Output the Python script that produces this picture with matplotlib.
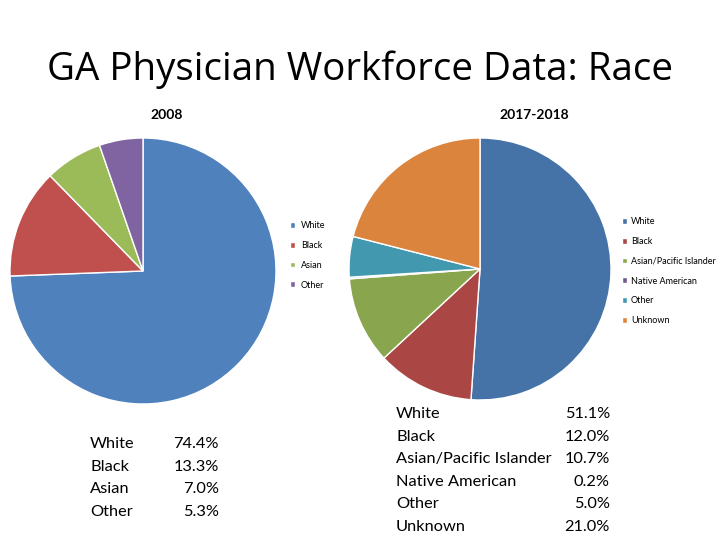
import matplotlib.pyplot as plt

plt.rcParams['font.family'] = ['Lato', 'DejaVu Sans']

# data
labels_2008 = ['White', 'Black', 'Asian', 'Other']
values_2008 = [74.4, 13.3, 7.0, 5.3]
colors_2008 = ['#4F81BD', '#C0504D', '#9BBB59', '#8064A2']

labels_2018 = ['White', 'Black', 'Asian/Pacific Islander', 'Native American', 'Other', 'Unknown']
values_2018 = [51.1, 12.0, 10.7, 0.2, 5.0, 21.0]
colors_2018 = ['#4572A7', '#AA4643', '#89A54E', '#71588F', '#4198AF', '#DB843D']

W, H = 720, 540
fig = plt.figure(figsize=(7.2, 5.4), dpi=100)


def px_axes(cx, cy, r):
    return fig.add_axes([(cx - r) / W, (H - cy - r) / H, 2 * r / W, 2 * r / H])


fig.text(360 / W, 1 - 70 / H, 'GA Physician Workforce Data: Race', ha='center', va='center',
         fontsize=27.7, family=['Open Sans', 'DejaVu Sans'])
fig.text(167 / W, 1 - 115 / H, '2008', ha='center', va='center', fontsize=10, fontweight='bold')
fig.text(534 / W, 1 - 115 / H, '2017-2018', ha='center', va='center', fontsize=10, fontweight='bold')

# left pie
ax1 = px_axes(143, 271, 133)
w1, _ = ax1.pie(values_2008, colors=colors_2008, startangle=90, counterclock=False,
                wedgeprops=dict(edgecolor='white', linewidth=1))
ax1.set_xlim(-1, 1); ax1.set_ylim(-1, 1)
fig.legend(w1, labels_2008, loc='upper left', bbox_to_anchor=(290 / W, 1 - 221 / H),
           frameon=False, fontsize=6.5, handlelength=0.6, handleheight=0.6,
           handletextpad=0.6, labelspacing=1.2, borderpad=0, borderaxespad=0)

# right pie
ax2 = px_axes(480, 269, 131)
w2, _ = ax2.pie(values_2018, colors=colors_2018, startangle=90, counterclock=False,
                wedgeprops=dict(edgecolor='white', linewidth=1))
ax2.set_xlim(-1, 1); ax2.set_ylim(-1, 1)
fig.legend(w2, labels_2018, loc='upper left', bbox_to_anchor=(622 / W, 1 - 217 / H),
           frameon=False, fontsize=6.5, handlelength=0.6, handleheight=0.6,
           handletextpad=0.4, labelspacing=1.2, borderpad=0, borderaxespad=0)

# text tables
for i, (lab, v) in enumerate(zip(labels_2008, values_2008)):
    y = 1 - (444 + i * 22.7) / H
    fig.text(90 / W, y, lab, ha='left', va='center', fontsize=11.8)
    fig.text(219 / W, y, f'{v:.1f}%', ha='right', va='center', fontsize=11.8)

for i, (lab, v) in enumerate(zip(labels_2018, values_2018)):
    y = 1 - (414 + i * 22.6) / H
    fig.text(396 / W, y, lab, ha='left', va='center', fontsize=11.8)
    fig.text(610 / W, y, f'{v:.1f}%', ha='right', va='center', fontsize=11.8)

fig.savefig('out.png', dpi=100)
